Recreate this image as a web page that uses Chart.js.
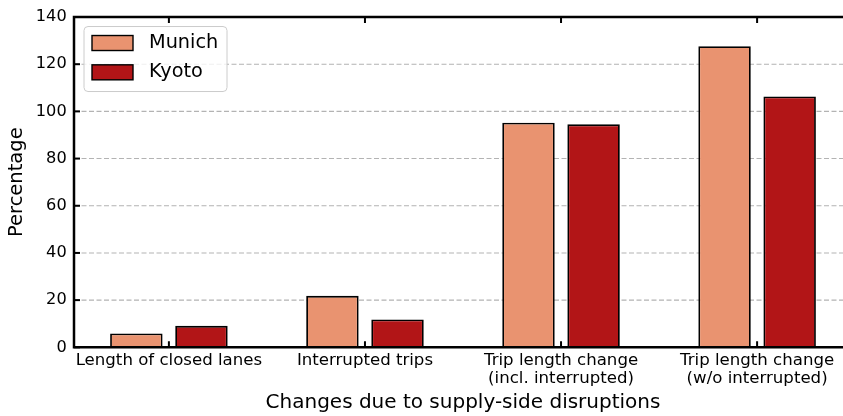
<!DOCTYPE html>
<html>
<head>
<meta charset="utf-8">
<script src="https://cdn.jsdelivr.net/npm/chart.js@4"></script>
<style>
  html, body { margin: 0; padding: 0; background: #fff; }
  #wrap { width: 843px; height: 416px; position: relative; overflow: hidden; }
</style>
</head>
<body>
<div id="wrap"><canvas id="chart" width="852" height="416"></canvas></div>
<script>
  // Datos (porcentajes).
  const categories = [
    'Length of closed lanes',
    'Interrupted trips',
    ['Trip length change', '(incl. interrupted)'],
    ['Trip length change', '(w/o interrupted)']
  ];
  const munich = [5.9, 21.8, 95.2, 127.6];
  const kyoto = [9.1, 11.8, 94.5, 106.3];
  const yTicks = [0, 20, 40, 60, 80, 100, 120, 140];
  const seriesNames = ['Munich', 'Kyoto'];
  const seriesColors = ['#E99370', '#B21517'];

  const FONT = "'DejaVu Sans', sans-serif";

  /**
   * Grid discontinua, marco, ticks hacia dentro y leyenda.
   */
  const framePlugin = {
    id: 'frame',
    beforeDatasetsDraw: function (chart) {
      const ctx = chart.ctx;
      const a = chart.chartArea;
      const y = chart.scales.y;
      ctx.save();
      ctx.strokeStyle = '#b3b3b3';
      ctx.lineWidth = 1.1;
      ctx.setLineDash([5, 2.5]);
      yTicks.forEach(function (v) {
        if (v === 0 || v === 140) {
          return;
        }
        const py = y.getPixelForValue(v);
        ctx.beginPath();
        ctx.moveTo(a.left, py);
        ctx.lineTo(a.right, py);
        ctx.stroke();
      });
      ctx.restore();
    },
    afterDatasetsDraw: function (chart) {
      const ctx = chart.ctx;
      const a = chart.chartArea;
      const x = chart.scales.x;
      const y = chart.scales.y;
      ctx.save();

      // Ticks hacia dentro.
      ctx.strokeStyle = '#000';
      ctx.lineWidth = 2;
      yTicks.forEach(function (v) {
        const py = y.getPixelForValue(v);
        ctx.beginPath();
        ctx.moveTo(a.left, py);
        ctx.lineTo(a.left + 6, py);
        ctx.stroke();
      });
      categories.forEach(function (c, i) {
        const px = x.getPixelForValue(i);
        ctx.beginPath();
        ctx.moveTo(px, a.top);
        ctx.lineTo(px, a.top + 6);
        ctx.moveTo(px, a.bottom);
        ctx.lineTo(px, a.bottom - 6);
        ctx.stroke();
      });

      // Marco.
      ctx.lineWidth = 2.5;
      ctx.beginPath();
      ctx.moveTo(a.left, a.top);
      ctx.lineTo(a.left, a.bottom);
      ctx.moveTo(a.left - 1.25, a.bottom);
      ctx.lineTo(a.right, a.bottom);
      ctx.moveTo(a.left - 1.25, a.top);
      ctx.lineTo(a.right, a.top);
      ctx.lineTo(a.right, a.bottom);
      ctx.stroke();

      // Leyenda.
      const lx = a.left + 10;
      const ly = a.top + 9.5;
      ctx.fillStyle = 'rgba(255,255,255,0.8)';
      ctx.strokeStyle = '#cccccc';
      ctx.lineWidth = 1;
      ctx.beginPath();
      ctx.roundRect(lx, ly, 143, 65, 4);
      ctx.fill();
      ctx.stroke();
      ctx.font = '19.3px ' + FONT;
      ctx.textBaseline = 'middle';
      seriesNames.forEach(function (name, i) {
        const ry = ly + 9 + i * 29.3;
        ctx.fillStyle = seriesColors[i];
        ctx.fillRect(lx + 8, ry, 41, 15);
        ctx.strokeStyle = '#000';
        ctx.lineWidth = 1.4;
        ctx.strokeRect(lx + 8, ry, 41, 15);
        ctx.fillStyle = '#000';
        ctx.fillText(name, lx + 65, ry + 7.5);
      });
      ctx.restore();
    }
  };

  function toPoints(values) {
    return values.map(function (v, i) {
      return { x: i, y: v };
    });
  }

  new Chart(document.getElementById('chart'), {
    type: 'bar',
    data: {
      datasets: [
        {
          label: seriesNames[0],
          data: toPoints(munich),
          backgroundColor: seriesColors[0],
          borderColor: '#000',
          borderWidth: 1.8,
          borderSkipped: 'start'
        },
        {
          label: seriesNames[1],
          data: toPoints(kyoto),
          backgroundColor: seriesColors[1],
          borderColor: '#000',
          borderWidth: 1.8,
          borderSkipped: 'start'
        }
      ]
    },
    options: {
      responsive: false,
      animation: false,
      devicePixelRatio: 1,
      categoryPercentage: 0.664,
      barPercentage: 0.806,
      layout: {
        padding: { top: 16.5, right: 0, left: 0, bottom: 0 }
      },
      plugins: {
        legend: { display: false },
        tooltip: { enabled: false }
      },
      scales: {
        x: {
          type: 'linear',
          offset: false,
          min: -0.484,
          max: 3.484,
          afterBuildTicks: function (axis) {
            axis.ticks = categories.map(function (c, i) {
              return { value: i };
            });
          },
          afterFit: function (scale) {
            scale.height = 68.7;
          },
          grid: { display: false, drawTicks: false },
          border: { display: false },
          ticks: {
            autoSkip: false,
            maxRotation: 0,
            padding: 4,
            color: '#000',
            font: { family: FONT, size: 16.6, lineHeight: 1.1 },
            callback: function (value) {
              return categories[value];
            }
          },
          title: {
            display: true,
            text: 'Changes due to supply-side disruptions',
            color: '#000',
            font: { family: FONT, size: 20, lineHeight: 1.2 },
            padding: { top: 0, bottom: 1 }
          }
        },
        y: {
          min: 0,
          max: 140,
          afterBuildTicks: function (axis) {
            axis.ticks = yTicks.map(function (v) {
              return { value: v };
            });
          },
          afterFit: function (scale) {
            scale.width = 74;
          },
          grid: { display: false, drawTicks: false },
          border: { display: false },
          ticks: {
            padding: 7.3,
            color: '#000',
            font: { family: FONT, size: 16.2 }
          },
          title: {
            display: true,
            text: 'Percentage',
            color: '#000',
            font: { family: FONT, size: 19.5, lineHeight: 1.2 },
            padding: { top: 5, bottom: 0 }
          }
        }
      }
    },
    plugins: [framePlugin]
  });
</script>
</body>
</html>
